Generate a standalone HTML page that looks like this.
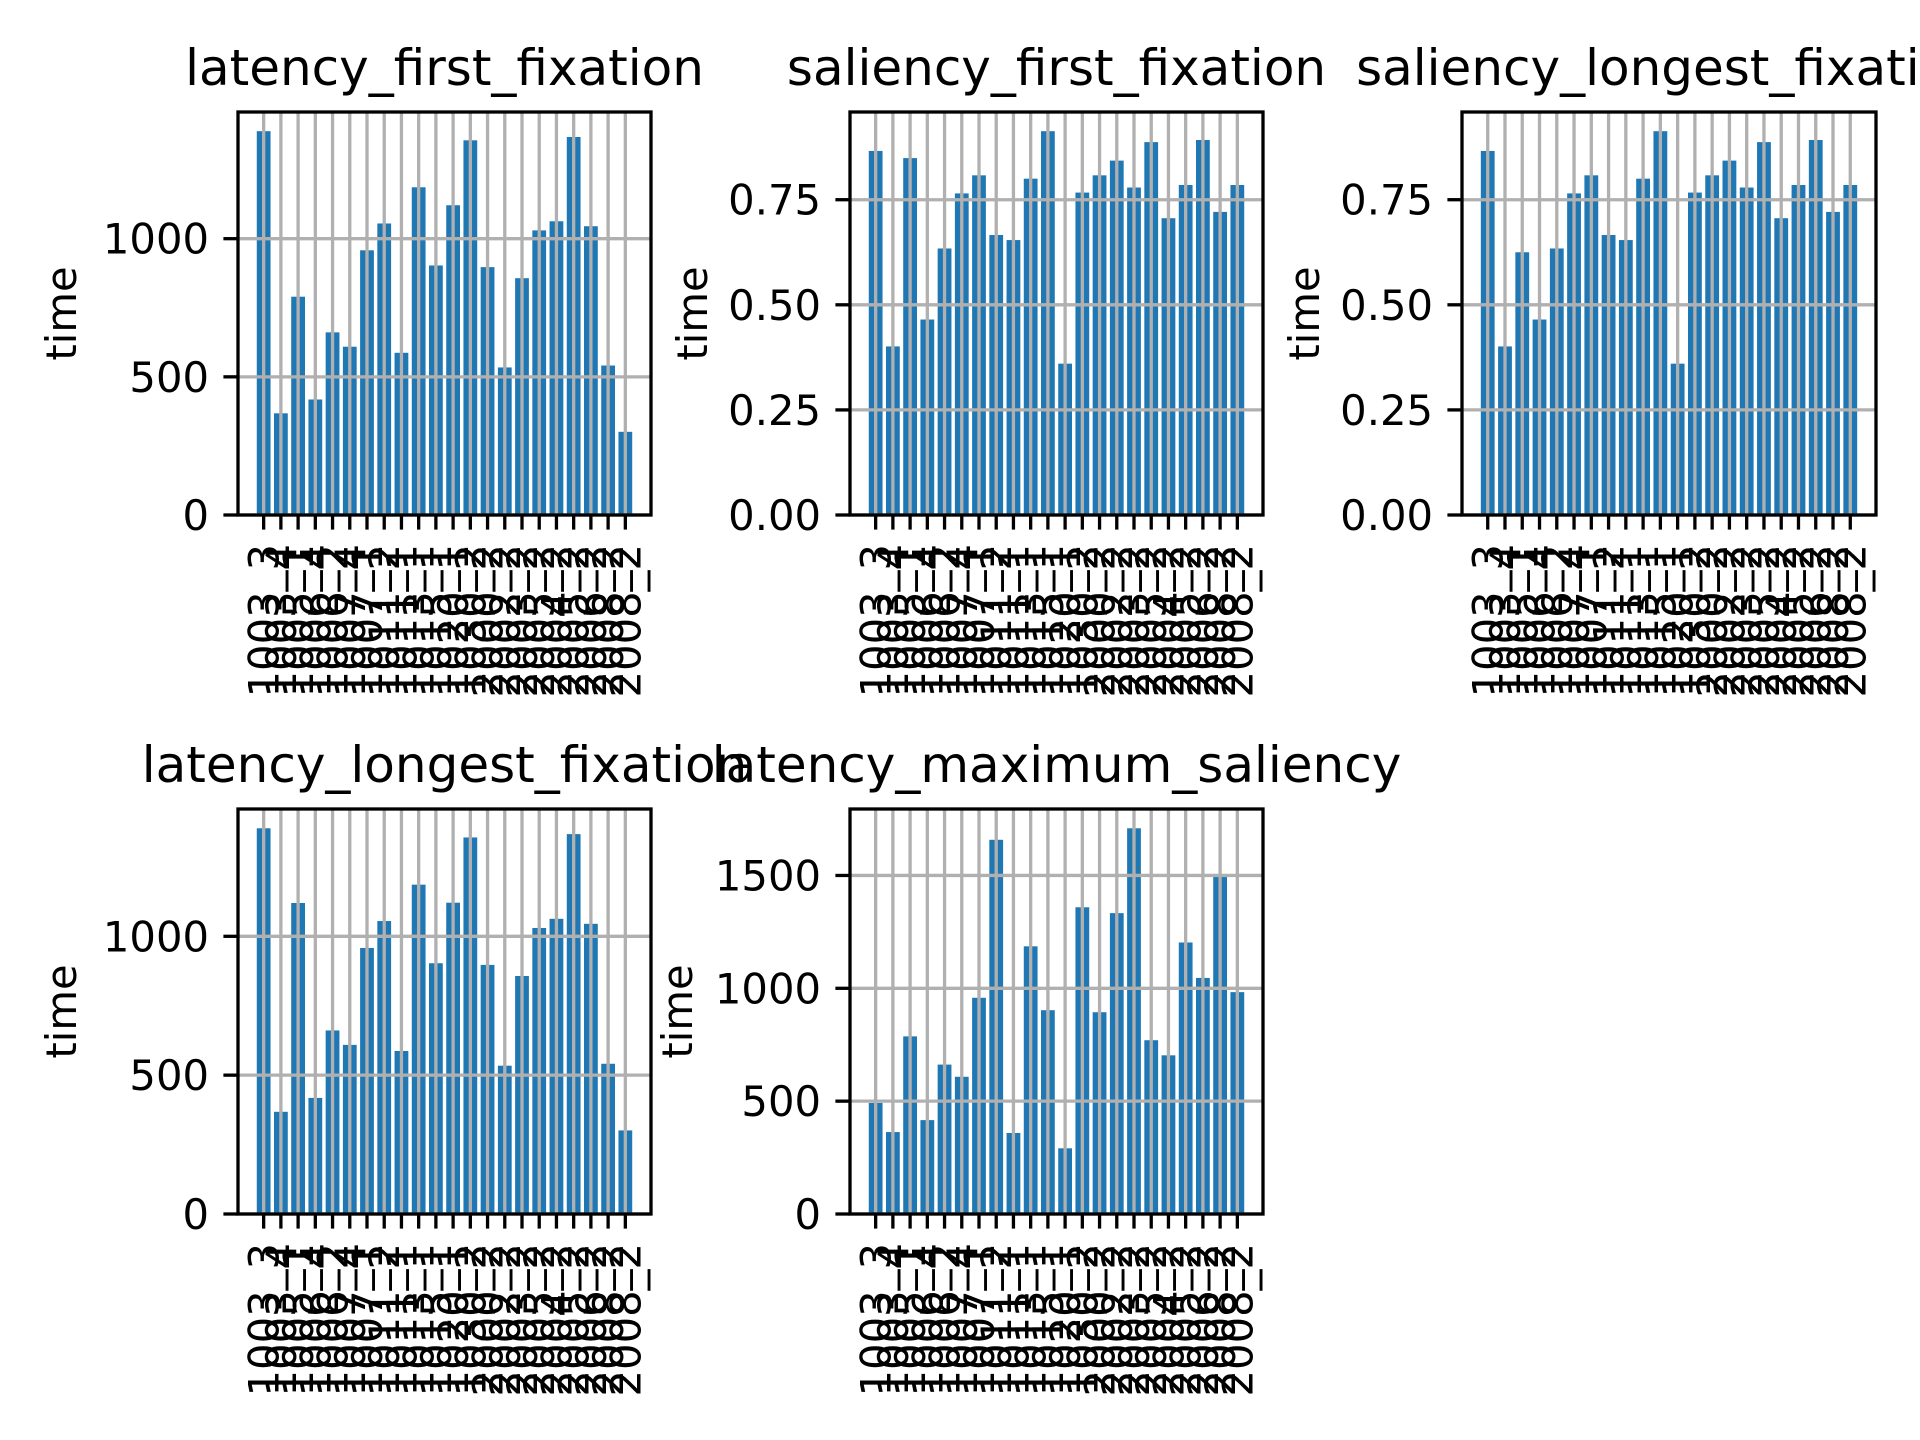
<!DOCTYPE html>
<html><head><meta charset="utf-8"><style>
html,body{margin:0;padding:0;background:#fff;}
svg{display:block;font-family:"DejaVu Sans","Liberation Sans",sans-serif;}
</style></head><body>
<svg id="fig" width="1920" height="1440" viewBox="0 0 1920 1440" xmlns="http://www.w3.org/2000/svg"></svg>
<script>
const categories = ["1003_3","1003_4","1005_1","1006_4","1006_2","1007_4","1007_1","1011_2","1011_1","1013_1","1015_1","1020_1","1030_2","2000_2","2002_2","2003_2","2005_2","2004_2","2005_2","2006_2","2008_2","2008_2"];
const latencyFirstFixation = [1389,368,790,418,661,609,958,1055,587,1186,903,1121,1356,897,534,857,1030,1063,1368,1045,541,301];
const saliencyFirstFixation = [0.866,0.401,0.849,0.465,0.634,0.765,0.808,0.666,0.654,0.80,0.913,0.36,0.767,0.808,0.843,0.779,0.887,0.706,0.785,0.892,0.721,0.785];
const saliencyLongestFixation = [0.866,0.401,0.625,0.465,0.634,0.765,0.808,0.666,0.654,0.80,0.913,0.36,0.767,0.808,0.843,0.779,0.887,0.706,0.785,0.892,0.721,0.785];
const latencyLongestFixation = [1389,368,1120,418,661,609,958,1055,587,1186,903,1121,1356,897,534,857,1030,1063,1368,1045,541,301];
const latencyMaximumSaliency = [492,363,787,416,662,608,958,1658,359,1186,903,291,1359,894,1333,1709,770,703,1203,1046,1496,983];
const tickLatency = [0,500,1000];
const tickLatencyMax = [0,500,1000,1500];
const tickSaliency = [0,0.25,0.5,0.75];
const tickSaliencyLabels = ["0.00","0.25","0.50","0.75"];

const NS = "http://www.w3.org/2000/svg";
const svg = document.getElementById('fig');
function mk(tag, attrs, parent){const e=document.createElementNS(NS,tag);for(const k in attrs)e.setAttribute(k,attrs[k]);(parent||svg).appendChild(e);return e;}

function panel(cfg){
  const {title,values,ticks,tickLabels,L,R,T,B,slug} = cfg;
  const g = mk('g',{});
  
  
  const n = values.length;
  const x0 = -0.4 - 0.05*(n-1+0.8), x1 = n-1+0.4 + 0.05*(n-1+0.8);
  const ymax = Math.max(...values)*1.05;
  const sx = v => L + (v-x0)/(x1-x0)*(R-L);
  const sy = v => B - v/ymax*(B-T);
  const bw = 0.8*(R-L)/(x1-x0);
  values.forEach((v,i)=>{
    const r = mk('rect',{x:sx(i)-bw/2,y:sy(v),width:bw,height:B-sy(v),fill:'#1f77b4'},g);
    
    
  });
  // grid
  categories.forEach((c,i)=>{mk('line',{x1:sx(i),x2:sx(i),y1:T,y2:B,stroke:'#b0b0b0','stroke-width':3.3},g);});
  ticks.forEach(t=>{mk('line',{x1:L,x2:R,y1:sy(t),y2:sy(t),stroke:'#b0b0b0','stroke-width':3.3},g);});
  // spines
  const sp = mk('rect',{x:L,y:T,width:R-L,height:B-T,fill:'none',stroke:'#000','stroke-width':3.3},g);
  
  
  // y ticks
  ticks.forEach((t,i)=>{
    mk('line',{x1:L-14.6,x2:L,y1:sy(t),y2:sy(t),stroke:'#000','stroke-width':3.3},g);
    const tx = mk('text',{x:L-29,y:sy(t)+15,'text-anchor':'end','font-size':41.7,fill:'#000'},g);
    tx.textContent = tickLabels[i];
    
    
  });
  // x ticks
  categories.forEach((c,i)=>{
    mk('line',{x1:sx(i),x2:sx(i),y1:B,y2:B+14.6,stroke:'#000','stroke-width':3.3},g);
    const tx = mk('text',{x:0,y:0,'text-anchor':'end','font-size':41.7,fill:'#000',transform:`translate(${sx(i)+15},${B+29}) rotate(-90)`},g);
    tx.textContent = c;
    
    
  });
  const tt = mk('text',{x:(L+R)/2,y:T-27,'text-anchor':'middle','font-size':50,fill:'#000'},g);
  tt.textContent = title;
  
  
  const yl = mk('text',{x:0,y:0,'text-anchor':'middle','font-size':41.7,fill:'#000',transform:`translate(${cfg.ylx},${(T+B)/2}) rotate(-90)`},g);
  yl.textContent = 'time';
  
  
}
panel({title:'latency_first_fixation',values:latencyFirstFixation,ticks:tickLatency,tickLabels:tickLatency.map(String),L:238,R:651,T:112,B:515,ylx:76,slug:'latency-first-fixation'});
panel({title:'saliency_first_fixation',values:saliencyFirstFixation,ticks:tickSaliency,tickLabels:tickSaliencyLabels,L:850,R:1263,T:112,B:515,ylx:707,slug:'saliency-first-fixation'});
panel({title:'saliency_longest_fixation',values:saliencyLongestFixation,ticks:tickSaliency,tickLabels:tickSaliencyLabels,L:1462,R:1876,T:112,B:515,ylx:1319,slug:'saliency-longest-fixation'});
panel({title:'latency_longest_fixation',values:latencyLongestFixation,ticks:tickLatency,tickLabels:tickLatency.map(String),L:238,R:651,T:809,B:1214,ylx:76,slug:'latency-longest-fixation'});
panel({title:'latency_maximum_saliency',values:latencyMaximumSaliency,ticks:tickLatencyMax,tickLabels:tickLatencyMax.map(String),L:850,R:1263,T:809,B:1214,ylx:692,slug:'latency-maximum-saliency'});
</script>
</body></html>
